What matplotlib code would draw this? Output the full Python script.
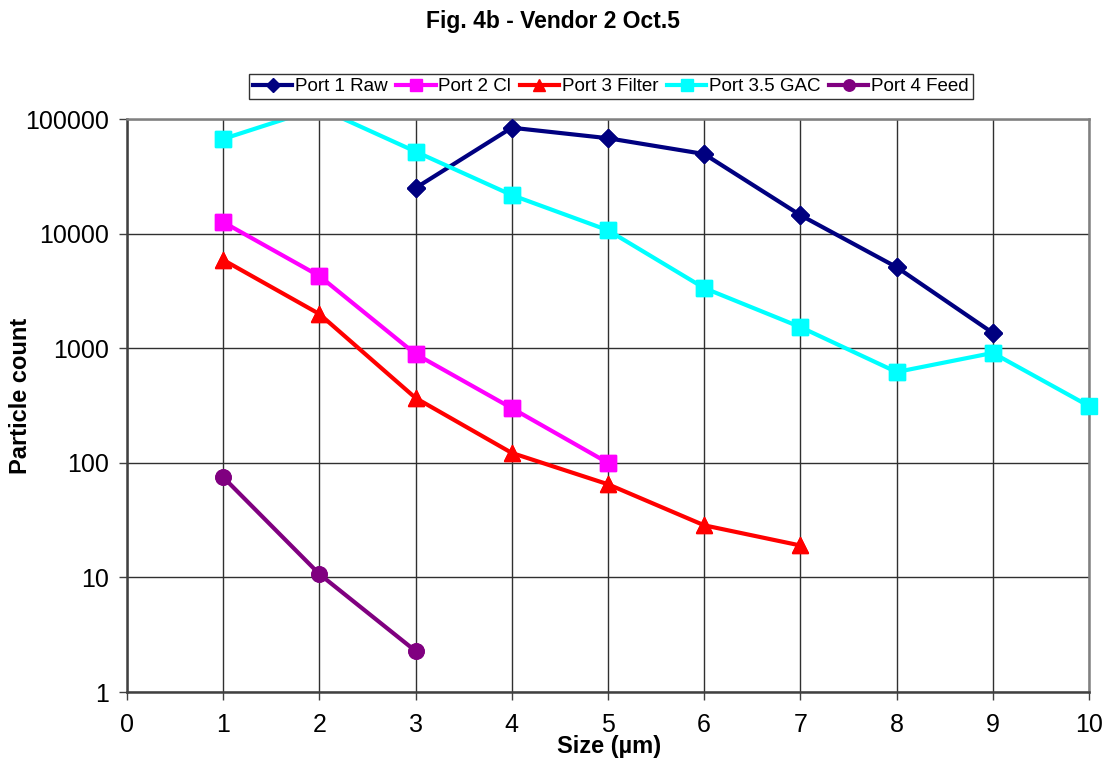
import matplotlib.pyplot as plt
import numpy as np

plt.rcParams['font.family'] = ['Liberation Sans', 'DejaVu Sans']

port1_x = [3, 4, 5, 6, 7, 8, 9]
port1 = [25000, 84000, 68000, 49500, 14500, 5100, 1360]

port2_x = [1, 2, 3, 4, 5]
port2 = [12600, 4270, 890, 300, 100]

port3_x = [1, 2, 3, 4, 5, 6, 7]
port3 = [5900, 1990, 368, 122, 65, 28.5, 19]

port35_x = [1, 2, 3, 4, 5, 6, 7, 8, 9, 10]
port35 = [67000, 125000, 52000, 21700, 10700, 3350, 1530, 620, 910, 313]

port4_x = [1, 2, 3]
port4 = [75, 10.7, 2.28]

series = [
    (port1_x, port1, '#000080', 'D', 9.5, 'Port 1 Raw'),
    (port2_x, port2, '#FF00FF', 's', 11, 'Port 2 Cl'),
    (port3_x, port3, '#FF0000', '^', 12, 'Port 3 Filter'),
    (port35_x, port35, '#00FFFF', 's', 11, 'Port 3.5 GAC'),
    (port4_x, port4, '#800080', 'o', 11, 'Port 4 Feed'),
]

ymin, ymax = 1, 100000

fig = plt.figure(figsize=(11.05, 7.64), dpi=100)
ax = fig.add_axes([0.1149, 0.0942, 0.8706, 0.75])

for xs, ys, col, mk, ms, lab in series:
    ax.plot(xs, ys, color=col, marker=mk, ms=ms, lw=3, label=lab)
    # markers sitting on the plot border are drawn whole, off-scale ones dropped
    xs_a, ys_a = np.array(xs), np.array(ys)
    keep = (ys_a >= ymin) & (ys_a <= ymax)
    ax.plot(xs_a[keep], ys_a[keep], ls='none', color=col, marker=mk, ms=ms,
            clip_on=False, zorder=3)

ax.set_yscale('log')
ax.set_xlim(0, 10)
ax.set_ylim(ymin, ymax)
ax.set_xticks(range(0, 11))
ax.set_yticks([1, 10, 100, 1000, 10000, 100000])
ax.set_yticklabels(['1', '10', '100', '1000', '10000', '100000'])
ax.yaxis.set_minor_locator(plt.NullLocator())

ax.grid(True, which='major', color='#303030', lw=1)
ax.set_axisbelow(True)
for s in ['top', 'right']:
    ax.spines[s].set_color('#808080')
    ax.spines[s].set_linewidth(1.8)
for s in ['left', 'bottom']:
    ax.spines[s].set_color('#404040')
    ax.spines[s].set_linewidth(1.8)
ax.tick_params(axis='both', labelsize=18, color='#404040', length=6, width=1)
ax.tick_params(axis='x', pad=9)
ax.tick_params(axis='y', pad=7)

ax.set_xlabel('Size (µm)', fontsize=17, fontweight='bold', va='center')
ax.xaxis.set_label_coords(0.5015, -0.0942)
ax.set_ylabel('Particle count', fontsize=17, fontweight='bold', va='center')
ax.yaxis.set_label_coords(-0.111, 0.5166)
fig.text(0.5, 0.972, 'Fig. 4b - Vendor 2 Oct.5', ha='center', va='center',
         fontsize=16.5, fontweight='bold')

leg = ax.legend(loc='lower center', bbox_to_anchor=(0.503, 1.035), ncol=5,
                fontsize=13.5, frameon=True, fancybox=False, edgecolor='black',
                handlelength=2.1, handletextpad=0.15, columnspacing=0.45,
                borderpad=0.2, borderaxespad=0, markerscale=0.75)
leg.get_frame().set_linewidth(1)

fig.savefig('out.png', dpi=100)
